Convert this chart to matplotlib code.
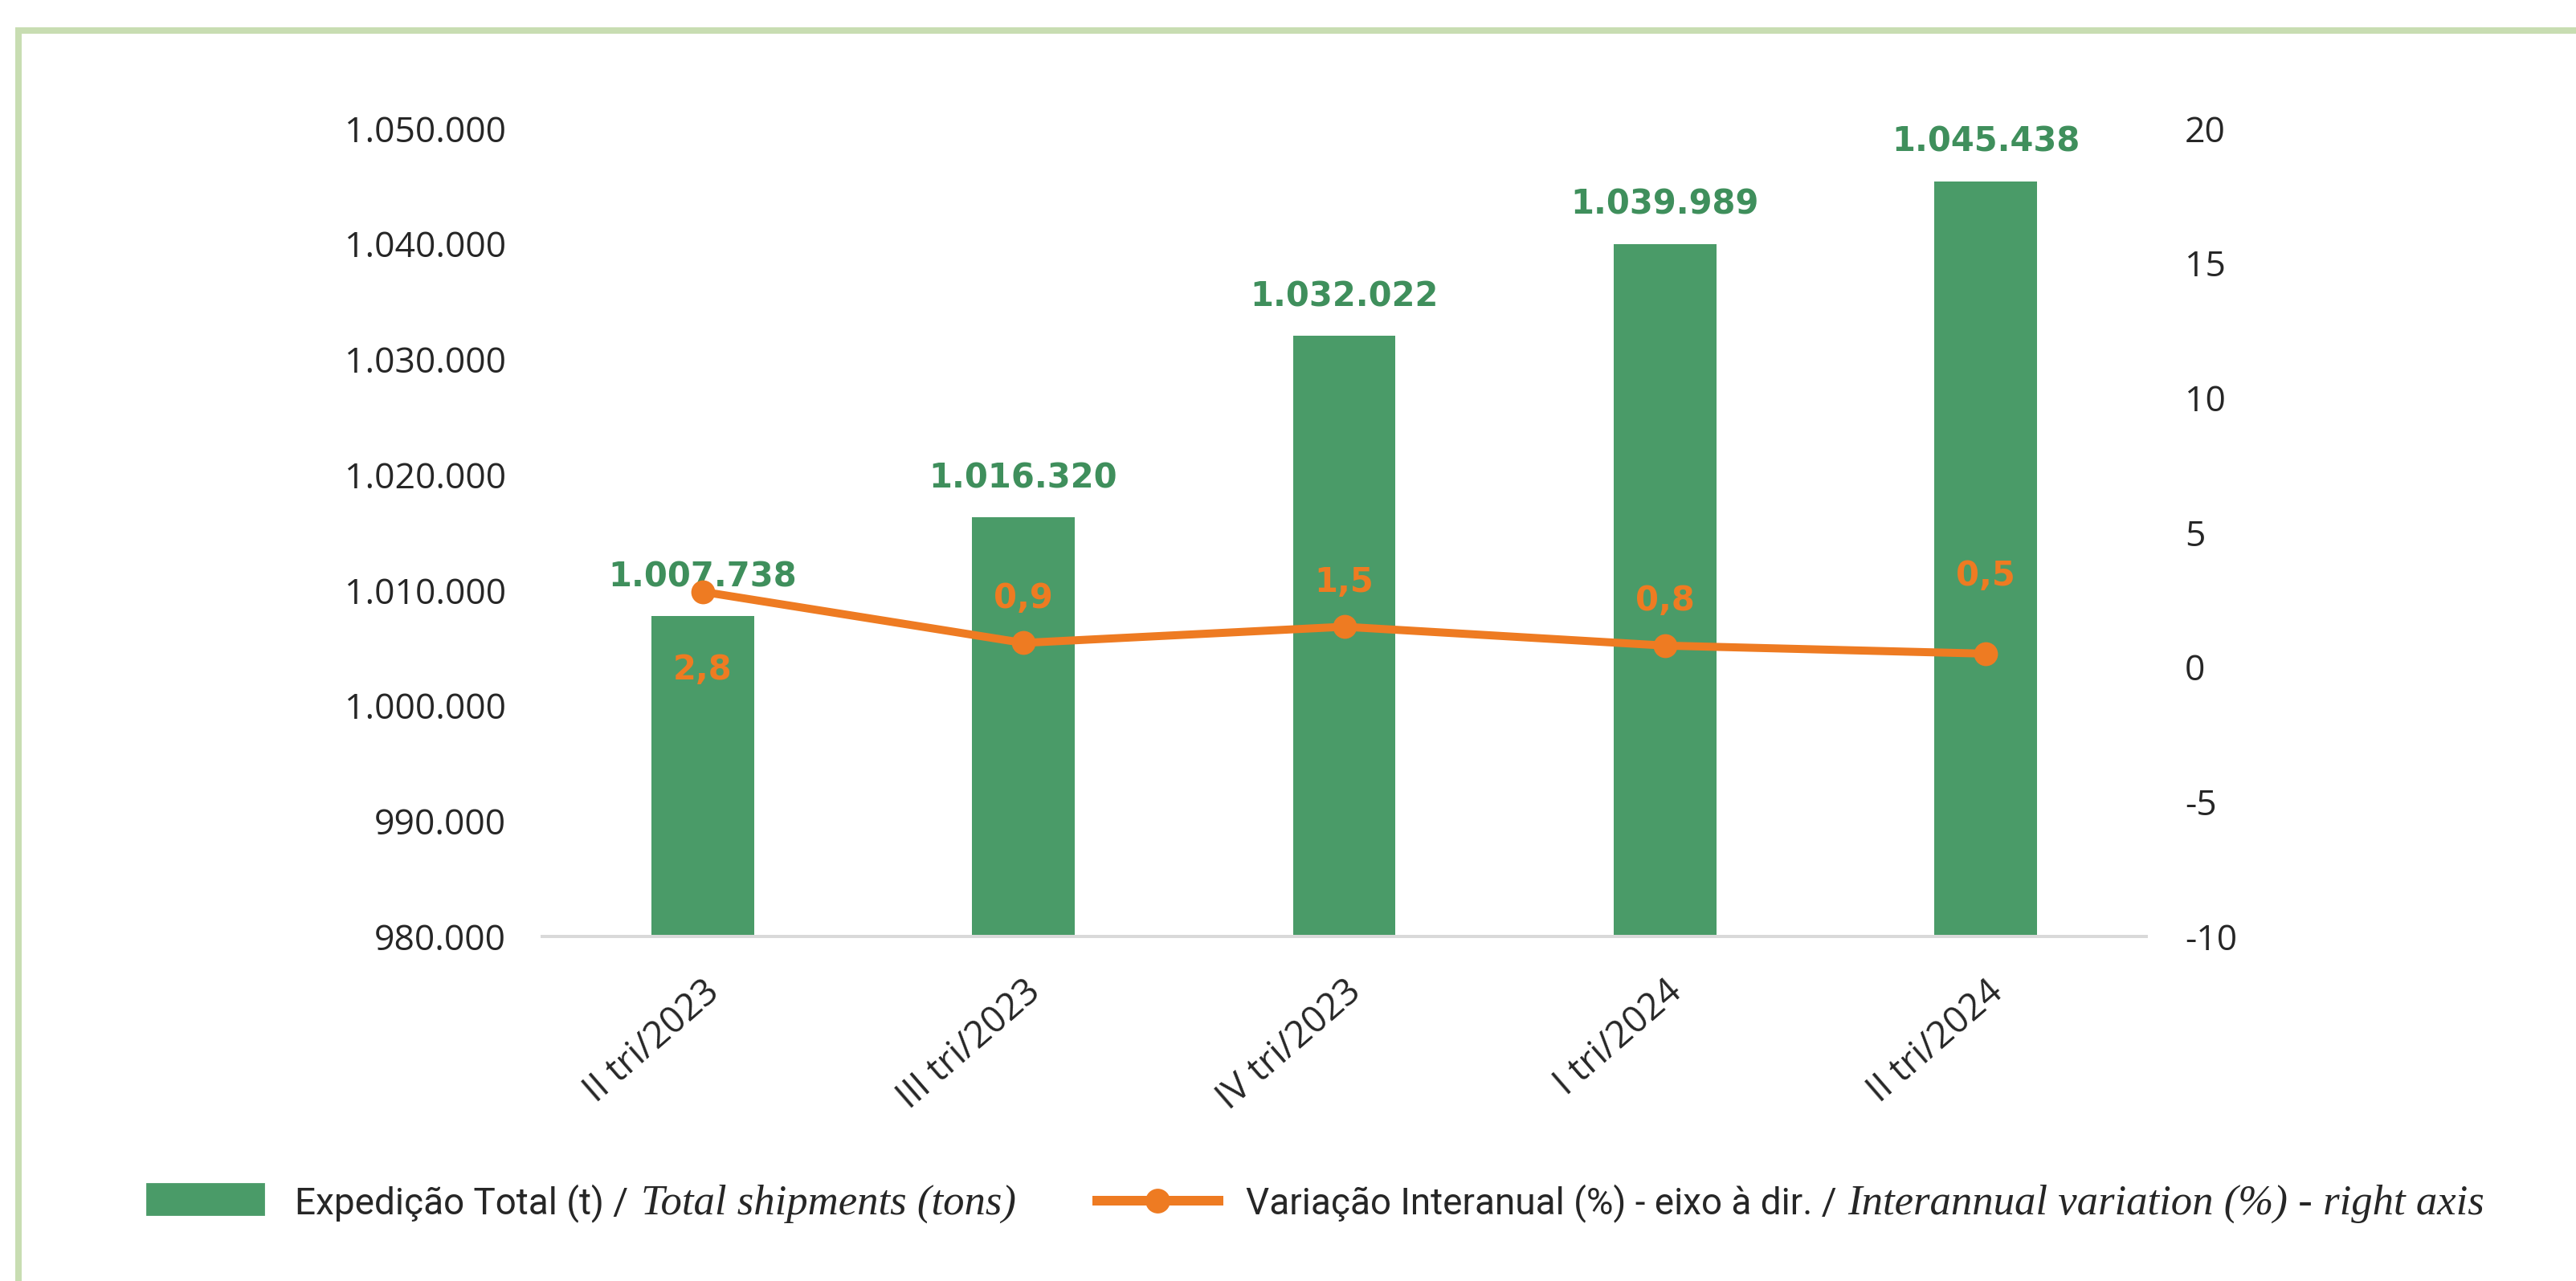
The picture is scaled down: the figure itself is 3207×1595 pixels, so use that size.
import matplotlib
matplotlib.use("Agg")
import matplotlib.pyplot as plt
import numpy as np
from matplotlib.ticker import FuncFormatter
from matplotlib.offsetbox import TextArea, DrawingArea, HPacker, AnchoredOffsetbox
from matplotlib.patches import Rectangle
from matplotlib.lines import Line2D
from matplotlib.transforms import ScaledTranslation

plt.rcParams["axes.unicode_minus"] = False

# data
quarters = ["II tri/2023", "III tri/2023", "IV tri/2023", "I tri/2024", "II tri/2024"]
shipments = [1007738, 1016320, 1032022, 1039989, 1045438]
variation = [2.8, 0.9, 1.5, 0.8, 0.5]

GREEN = "#4a9b68"
GREEN_TXT = "#3f8f5c"
ORANGE = "#ee7b22"
TXT = "#262626"
DPI = 200
W, H = 3207, 1595


def pt(v):
    # pixels -> points
    return v * 72 / DPI


def br_num(v, pos=None):
    return f"{v:,.0f}".replace(",", ".")


fig = plt.figure(figsize=(W / DPI, H / DPI), dpi=DPI)
fig.patch.set_facecolor("white")

# light green frame (top and left edges only are visible)
fig.add_artist(Line2D([23 / W, 23 / W], [0, 1 - 38 / H], transform=fig.transFigure,
                      color="#c8ddb2", lw=pt(8)))
fig.add_artist(Line2D([23 / W, 1], [1 - 38 / H, 1 - 38 / H], transform=fig.transFigure,
                      color="#c8ddb2", lw=pt(8)))

ax = fig.add_axes([675 / W, (H - 1166) / H, (2672 - 675) / W, (1166 - 160) / H])
x = np.arange(len(quarters))
bars = ax.bar(x, shipments, width=0.32, color=GREEN, zorder=2)
ax.set_xlim(-0.5, len(quarters) - 0.5)
ax.set_ylim(980000, 1050000)
ax.set_yticks(np.arange(980000, 1050001, 10000))
ax.yaxis.set_major_formatter(FuncFormatter(br_num))
ax.set_xticks(x)
ax.set_xticklabels(quarters, rotation=41, ha="right", va="top", rotation_mode="anchor",
                   family="Open Sans", fontsize=16.5, color=TXT)
shift = ScaledTranslation(-14 / DPI, 0, fig.dpi_scale_trans)
for lab in ax.get_xticklabels():
    lab.set_transform(lab.get_transform() + shift)
ax.tick_params(axis="x", length=0, pad=pt(46))
ax.tick_params(axis="y", length=0, pad=pt(45), labelsize=16, labelcolor=TXT)
for lab in ax.get_yticklabels():
    lab.set_family("Open Sans")
for s in ["top", "left", "right"]:
    ax.spines[s].set_visible(False)
ax.spines["bottom"].set_color("#d9d9d9")
ax.spines["bottom"].set_linewidth(pt(4))

for xi, v in zip(x, shipments):
    ax.annotate(br_num(v), (xi, v), xytext=(0, pt(37)), textcoords="offset points",
                ha="center", va="baseline", fontsize=15, fontweight="bold",
                family="DejaVu Sans", color=GREEN_TXT)

ax2 = ax.twinx()
ax2.plot(x, variation, color=ORANGE, lw=pt(10), marker="o", ms=pt(27),
         solid_capstyle="round", zorder=3)
ax2.set_ylim(-10, 20)
ax2.set_yticks(np.arange(-10, 21, 5))
ax2.tick_params(axis="y", length=0, pad=pt(48), labelsize=16, labelcolor=TXT)
for lab in ax2.get_yticklabels():
    lab.set_family("Open Sans")
for s in ax2.spines.values():
    s.set_visible(False)

# line labels: first one sits below the point, the rest above
label_dy = [-35, 20, 20, 20, 35]
for xi, v, dy in zip(x, variation, label_dy):
    ax2.annotate(f"{v:.1f}".replace(".", ","), (xi, v), xytext=(0, dy),
                 textcoords="offset points", ha="center", va="center",
                 fontsize=15, fontweight="bold", family="DejaVu Sans", color=ORANGE)

# legend: mixed sans + italic serif text
sans = dict(family="Roboto", size=16.5, color=TXT)
ital = dict(family="Liberation Serif", style="italic", size=19, color=TXT)


def spacer(w):
    return DrawingArea(pt(w), 1, 0, 0)


patch_da = DrawingArea(pt(145), pt(38), 0, 0)
patch_da.add_artist(Rectangle((0, 0), pt(145), pt(38), color=GREEN))
line_da = DrawingArea(pt(151), pt(34), 0, 0)
line_da.add_artist(Line2D([0, pt(151)], [pt(17), pt(17)], color=ORANGE, lw=pt(12)))
line_da.add_artist(Line2D([pt(75)], [pt(17)], color=ORANGE, marker="o", ms=pt(28), lw=0))

groups = [
    (183, [patch_da, spacer(39), TextArea("Expedição Total (t) /", textprops=sans),
           spacer(16), TextArea("Total shipments (tons)", textprops=ital)]),
    (1366, [line_da, spacer(34), TextArea("Variação Interanual (%) - eixo à dir. /", textprops=sans),
            spacer(14), TextArea("Interannual variation (%) - right axis", textprops=ital)]),
]
for gx, kids in groups:
    box = HPacker(children=kids, align="baseline", pad=0, sep=0)
    anc = AnchoredOffsetbox(loc="lower left", child=box, pad=0, borderpad=0, frameon=False,
                            bbox_to_anchor=(gx / W, 72 / H), bbox_transform=fig.transFigure)
    fig.add_artist(anc)

fig.savefig("out.png", dpi=DPI)
